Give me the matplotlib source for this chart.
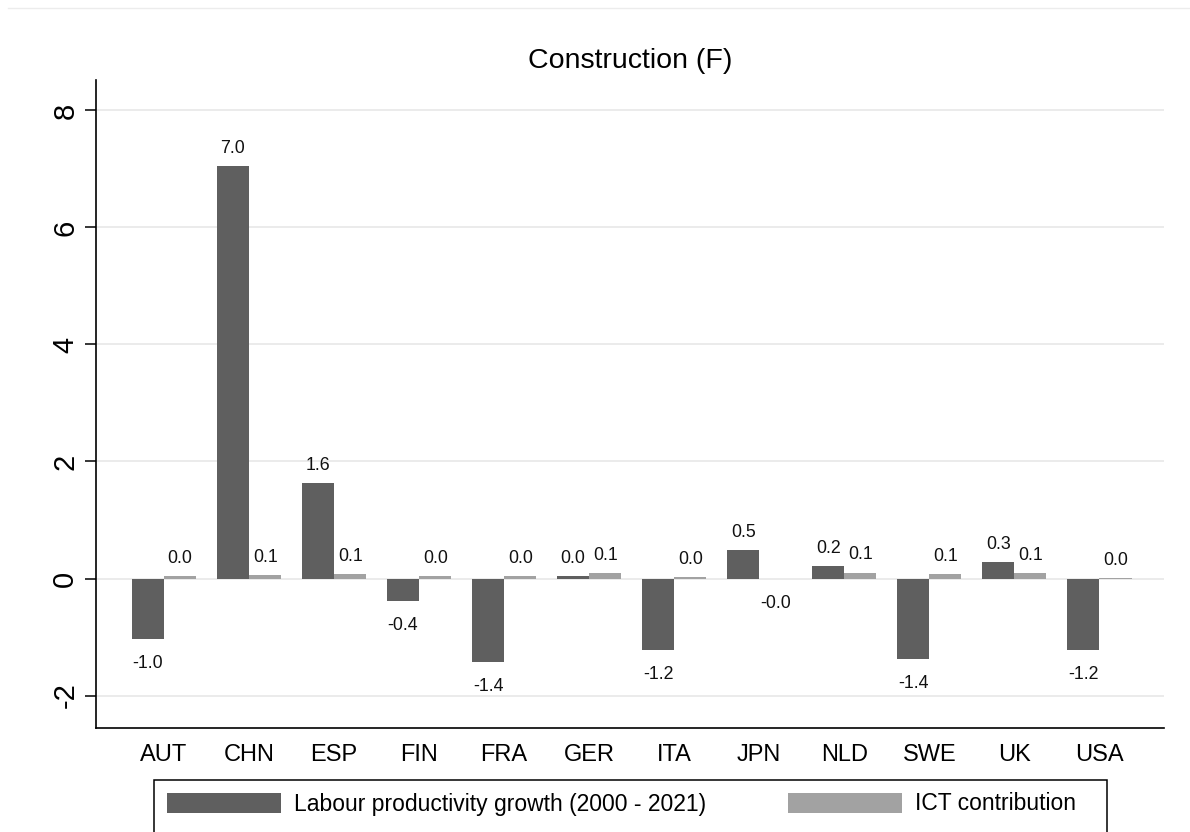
import matplotlib
matplotlib.use("Agg")
import matplotlib.pyplot as plt
from matplotlib.patches import Patch, Rectangle
from matplotlib.lines import Line2D
import numpy as np

plt.rcParams['font.family'] = ['Liberation Sans', 'DejaVu Sans']

countries = ['AUT', 'CHN', 'ESP', 'FIN', 'FRA', 'GER', 'ITA', 'JPN', 'NLD', 'SWE', 'UK', 'USA']
labour_prod = [-1.03, 7.05, 1.63, -0.38, -1.42, 0.04, -1.22, 0.48, 0.21, -1.38, 0.28, -1.22]
ict_contrib = [0.04, 0.06, 0.08, 0.04, 0.04, 0.09, 0.02, -0.01, 0.10, 0.07, 0.09, 0.01]
series_names = ['Labour productivity growth (2000 - 2021)', 'ICT contribution']
title = 'Construction (F)'
yticks = [-2, 0, 2, 4, 6, 8]

W, H = 1190, 832
fig = plt.figure(figsize=(W / 100, H / 100), dpi=100)
ax = fig.add_axes([96 / W, (H - 727.7) / H, (1164 - 96) / W, (727.7 - 80) / H])

dark = '#5f5f5f'
light = '#a2a2a2'
x = np.arange(len(countries))
bw = 0.378
b1 = ax.bar(x - bw / 2, labour_prod, bw, color=dark, zorder=3)
b2 = ax.bar(x + bw / 2, ict_contrib, bw, color=light, zorder=3)

for bars, vals in ((b1, labour_prod), (b2, ict_contrib)):
    for rect, v in zip(bars, vals):
        cx = rect.get_x() + rect.get_width() / 2
        if v >= 0:
            ax.annotate(f'{v:.1f}', (cx, v), xytext=(0, 6.7), textcoords='offset points',
                        ha='center', va='bottom', fontsize=12.8, color='#111111')
        else:
            ax.annotate(f'{v:.1f}', (cx, v), xytext=(0, -11.5), textcoords='offset points',
                        ha='center', va='top', fontsize=12.8, color='#111111')

ax.set_xlim(-0.8, 11.76)
ax.set_ylim(-2.55, 8.52)
ax.set_xticks(x)
ax.set_xticklabels(countries, fontsize=17)
ax.set_yticks(yticks)
ax.set_yticklabels([str(t) for t in yticks], fontsize=21, rotation=90, va='center')
ax.tick_params(axis='x', length=0, pad=11.5)
ax.tick_params(axis='y', length=8, width=1.1, pad=4)
ax.yaxis.grid(True, color='#e8e8e8', linewidth=1.2, zorder=0)
ax.set_axisbelow(True)
for s in ('top', 'right'):
    ax.spines[s].set_visible(False)
for s in ('left', 'bottom'):
    ax.spines[s].set_linewidth(1.2)
    ax.spines[s].set_color('black')

ax.set_title(title, fontsize=20.5, pad=9)

# faint outer border at the top
fig.add_artist(Line2D([8 / W, 1.0], [1 - 8 / H, 1 - 8 / H], color='#ececec', linewidth=1.0,
                      transform=fig.transFigure))

# legend frame (extends below the image)
fig.add_artist(Rectangle((153.6 / W, -0.05), (1106.7 - 153.6) / W, (H - 780) / H + 0.05,
                         transform=fig.transFigure, fill=False, edgecolor='black', linewidth=1.1))
handles = [Patch(facecolor=dark, edgecolor='none'), Patch(facecolor=light, edgecolor='none')]
leg = fig.legend(handles, series_names, ncol=2, loc='center left',
                 bbox_to_anchor=(166.7 / W, 1 - 804 / H), frameon=False, fontsize=16.5,
                 handlelength=4.97, handleheight=0.96, handletextpad=0.58, columnspacing=3.58,
                 borderpad=0, borderaxespad=0)

fig.savefig('out.png', dpi=100, facecolor='white')
